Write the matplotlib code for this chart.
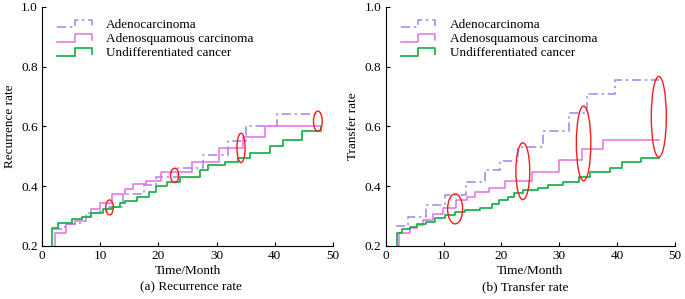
import matplotlib
matplotlib.use("Agg")
import matplotlib.pyplot as plt
from matplotlib.patches import Ellipse
from matplotlib.lines import Line2D
from matplotlib.legend_handler import HandlerBase

plt.rcParams['font.family'] = ['Liberation Serif', 'DejaVu Serif']

# ---------------- data ----------------
labels = ["Adenocarcinoma", "Adenosquamous carcinoma", "Undifferentiated cancer"]

# (a) Recurrence rate
rec_adeno_t = [1.9, 4.0, 6.5, 7.5, 10.0, 11.5, 14.0, 17.5, 19.6, 23.4, 27.7, 32.0, 35.1, 40.3, 48.0]
rec_adeno_v = [0.256, 0.274, 0.285, 0.309, 0.318, 0.331, 0.373, 0.404, 0.432, 0.460, 0.504, 0.552, 0.602, 0.641, 0.641]
rec_squam_t = [2.3, 2.3, 4.2, 5.7, 6.8, 8.5, 10.0, 12.0, 14.2, 15.6, 17.9, 20.5, 25.7, 30.4, 34.5, 38.3, 48.0]
rec_squam_v = [0.200, 0.245, 0.272, 0.283, 0.298, 0.323, 0.343, 0.374, 0.389, 0.406, 0.417, 0.448, 0.482, 0.529, 0.565, 0.600, 0.600]
rec_undif_t = [1.8, 1.8, 2.8, 5.1, 6.8, 8.5, 10.5, 12.0, 13.4, 14.3, 16.3, 18.3, 19.6, 21.4, 23.7, 27.1, 28.5, 31.4, 33.7, 35.7, 39.1, 41.4, 44.7, 48.0]
rec_undif_v = [0.200, 0.259, 0.276, 0.289, 0.298, 0.309, 0.323, 0.331, 0.343, 0.352, 0.365, 0.382, 0.400, 0.415, 0.432, 0.454, 0.471, 0.482, 0.493, 0.510, 0.534, 0.554, 0.584, 0.599]

# (b) Transfer rate
tra_adeno_t = [1.7, 3.9, 7.0, 10.25, 13.8, 17.2, 19.8, 22.9, 27.2, 31.6, 34.8, 39.7, 47.2]
tra_adeno_v = [0.268, 0.296, 0.336, 0.370, 0.415, 0.455, 0.484, 0.532, 0.584, 0.643, 0.708, 0.756, 0.756]
tra_squam_t = [2.3, 2.3, 4.2, 5.4, 6.5, 8.2, 9.9, 12.2, 14.0, 15.5, 17.8, 20.6, 25.2, 30.0, 33.9, 37.6, 47.3]
tra_squam_v = [0.200, 0.242, 0.259, 0.270, 0.287, 0.306, 0.326, 0.354, 0.365, 0.382, 0.393, 0.417, 0.449, 0.487, 0.523, 0.554, 0.554]
tra_undif_t = [1.9, 1.9, 2.8, 4.2, 5.4, 6.9, 8.6, 10.3, 12.0, 13.7, 16.3, 18.3, 19.5, 21.2, 22.1, 23.8, 26.4, 28.1, 30.7, 33.4, 35.3, 38.8, 40.8, 44.2, 47.2]
tra_undif_v = [0.200, 0.242, 0.257, 0.265, 0.272, 0.281, 0.292, 0.304, 0.315, 0.320, 0.328, 0.339, 0.354, 0.365, 0.376, 0.387, 0.393, 0.404, 0.415, 0.432, 0.448, 0.460, 0.482, 0.495, 0.495]

# highlighted regions: centre x, centre y, width, height
rec_ell_x = [11.6, 22.8, 34.2, 47.4]
rec_ell_y = [0.329, 0.436, 0.528, 0.617]
rec_ell_w = [1.3, 1.4, 1.4, 1.5]
rec_ell_h = [0.050, 0.048, 0.098, 0.068]
tra_ell_x = [12.0, 23.7, 34.2, 47.2]
tra_ell_y = [0.324, 0.450, 0.543, 0.632]
tra_ell_w = [2.6, 2.4, 2.5, 2.6]
tra_ell_h = [0.100, 0.190, 0.250, 0.270]

x_ticks = [0, 10, 20, 30, 40, 50]
y_ticks = [0.2, 0.4, 0.6, 0.8, 1.0]

# ---------------- style ----------------
c_adeno = "#9d84ee"
c_squam = "#e46fe0"
c_undif = "#1fb34f"
c_ell = "#f41c1c"
ls_adeno = (0, (6, 2.5, 1.5, 2.5))
FS = 9.5


class StepHandler(HandlerBase):
    def create_artists(self, legend, orig_handle, xdescent, ydescent,
                       width, height, fontsize, trans):
        x0 = -xdescent
        x1 = x0 + width
        xm = x0 + width * 0.5
        lo = -ydescent + height * 0.05
        hi = -ydescent + height * 0.85
        ln = Line2D([x0, xm, xm, x1, x1], [lo, lo, hi, hi, lo + height * 0.15])
        ln.update_from(orig_handle)
        ln.set_transform(trans)
        return [ln]


fig = plt.figure(figsize=(6.85, 2.99), dpi=100)
ax1 = fig.add_axes([42 / 685, 53 / 299, 291 / 685, 239.3 / 299])
ax2 = fig.add_axes([385.7 / 685, 53 / 299, 289.3 / 685, 239.3 / 299])

panels = [
    (ax1, rec_adeno_t, rec_adeno_v, rec_squam_t, rec_squam_v, rec_undif_t, rec_undif_v,
     rec_ell_x, rec_ell_y, rec_ell_w, rec_ell_h, "Recurrence rate"),
    (ax2, tra_adeno_t, tra_adeno_v, tra_squam_t, tra_squam_v, tra_undif_t, tra_undif_v,
     tra_ell_x, tra_ell_y, tra_ell_w, tra_ell_h, "Transfer rate"),
]

for (ax, at, av, st, sv, ut, uv, ex, ey, ew, eh, ylab) in panels:
    h1, = ax.step(at, av, where='post', color=c_adeno, lw=1.1, linestyle=ls_adeno)
    h2, = ax.step(st, sv, where='post', color=c_squam, lw=1.1)
    h3, = ax.step(ut, uv, where='post', color=c_undif, lw=1.3)
    for x, y, w, h in zip(ex, ey, ew, eh):
        ax.add_patch(Ellipse((x, y), w, h, fill=False, edgecolor=c_ell, lw=1.0, zorder=5))
    ax.set_xlim(0, 50)
    ax.set_ylim(0.2, 1.0)
    ax.set_xticks(x_ticks)
    ax.set_yticks(y_ticks)
    ax.set_yticklabels([f"{v:.1f}" for v in y_ticks])
    ax.tick_params(direction='in', length=3, width=0.8, labelsize=FS, pad=3)
    for s in ['top', 'right']:
        ax.spines[s].set_visible(False)
    for s in ['left', 'bottom']:
        ax.spines[s].set_linewidth(0.8)
    ax.set_xlabel("Time/Month", fontsize=FS, labelpad=2)
    ax.set_ylabel(ylab, fontsize=FS, labelpad=4)
    ax.legend([h1, h2, h3], labels, loc='upper left', bbox_to_anchor=(0.012, 1.0),
              frameon=False, fontsize=FS, handlelength=2.6, handletextpad=1.1,
              labelspacing=0.15, handler_map={Line2D: StepHandler()})

fig.text(191 / 685, 1 - 287 / 299, "(a) Recurrence rate", ha='center', va='center', fontsize=FS)
fig.text(525 / 685, 1 - 287 / 299, "(b) Transfer rate", ha='center', va='center', fontsize=FS)

fig.savefig("out.png", dpi=100)
